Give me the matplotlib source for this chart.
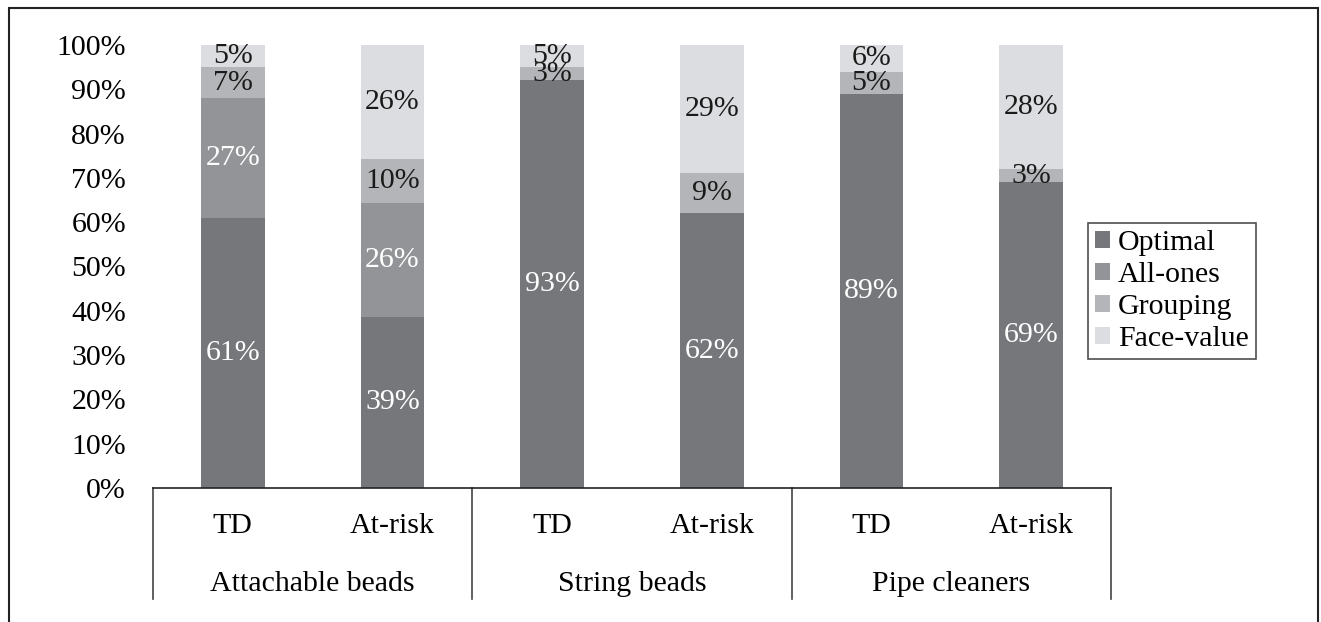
import matplotlib
matplotlib.use("Agg")
import matplotlib.pyplot as plt
import numpy as np
from matplotlib.patches import Rectangle

# --- data -------------------------------------------------------------
groups = ["Attachable beads", "String beads", "Pipe cleaners"]
subgroups = ["TD", "At-risk"]
series = ["Optimal", "All-ones", "Grouping", "Face-value"]

optimal = [61, 39, 93, 62, 89, 69]
all_ones = [27, 26, 0, 0, 0, 0]
grouping = [7, 10, 3, 9, 5, 3]
face_value = [5, 26, 5, 29, 6, 28]

yticks = [0, 10, 20, 30, 40, 50, 60, 70, 80, 90, 100]

colors = ["#76777b", "#939497", "#b4b5b8", "#dcdde0"]
label_colors = ["white", "white", "#1a1a1a", "#1a1a1a"]

plt.rcParams["font.family"] = ["Liberation Serif", "DejaVu Serif"]
FS = 21.5

W, H = 1321, 622
fig = plt.figure(figsize=(W / 100, H / 100), dpi=100)
ax = fig.add_axes([153 / W, 1 - 488 / H, (1111 - 153) / W, (488 - 45) / H])

values = np.array([optimal, all_ones, grouping, face_value], dtype=float)
totals = values.sum(axis=0)
shares = values / totals * 100  # 100% stacked, like the source
x = np.arange(values.shape[1])

bottom = np.zeros(len(x))
for i, name in enumerate(series):
    ax.bar(x, shares[i], bottom=bottom, width=0.4, color=colors[i],
           label=name, linewidth=0)
    for xi, raw, h, b in zip(x, values[i], shares[i], bottom):
        if raw > 0:
            ax.text(xi, b + h / 2, f"{int(raw)}%", ha="center", va="center",
                    fontsize=FS, color=label_colors[i])
    bottom += shares[i]

ax.set_xlim(-0.5, len(x) - 0.5)
ax.set_ylim(0, 100)
ax.set_yticks(yticks)
ax.set_yticklabels([f"{t}%" for t in yticks], fontsize=FS)
ax.tick_params(axis="y", length=0, pad=19.5)
ax.set_xticks([])
for side in ("top", "right", "left"):
    ax.spines[side].set_visible(False)
ax.spines["bottom"].set_color("#222222")
ax.spines["bottom"].set_linewidth(1.2)

# two-level category axis
for xi in x:
    ax.text(xi, -0.085, subgroups[xi % 2], transform=ax.get_xaxis_transform(),
            ha="center", va="center", fontsize=FS)
for gi, g in enumerate(groups):
    ax.text(2 * gi + 0.5, -0.216, g, transform=ax.get_xaxis_transform(),
            ha="center", va="center", fontsize=FS)
for xv in [-0.5, 1.5, 3.5, 5.5]:
    ax.plot([xv, xv], [0, -0.25], transform=ax.get_xaxis_transform(),
            color="#444444", lw=1.2, clip_on=False)

leg = ax.legend(loc="center left", bbox_to_anchor=(1088 / W, 1 - 291 / H),
                bbox_transform=fig.transFigure, fontsize=FS, frameon=True,
                fancybox=False, handlelength=0.5, handleheight=0.5,
                handletextpad=0.25, borderpad=0.25, labelspacing=0.2,
                borderaxespad=0)
leg.get_frame().set_edgecolor("#222222")
leg.get_frame().set_linewidth(1.2)

# outer frame around the whole chart
fig.patches.append(Rectangle((9 / W, -0.1), (1318 - 9) / W, 1.1 - 8 / H,
                             transform=fig.transFigure, fill=False,
                             edgecolor="#222222", lw=1.5))

fig.savefig("out.png", dpi=100)
